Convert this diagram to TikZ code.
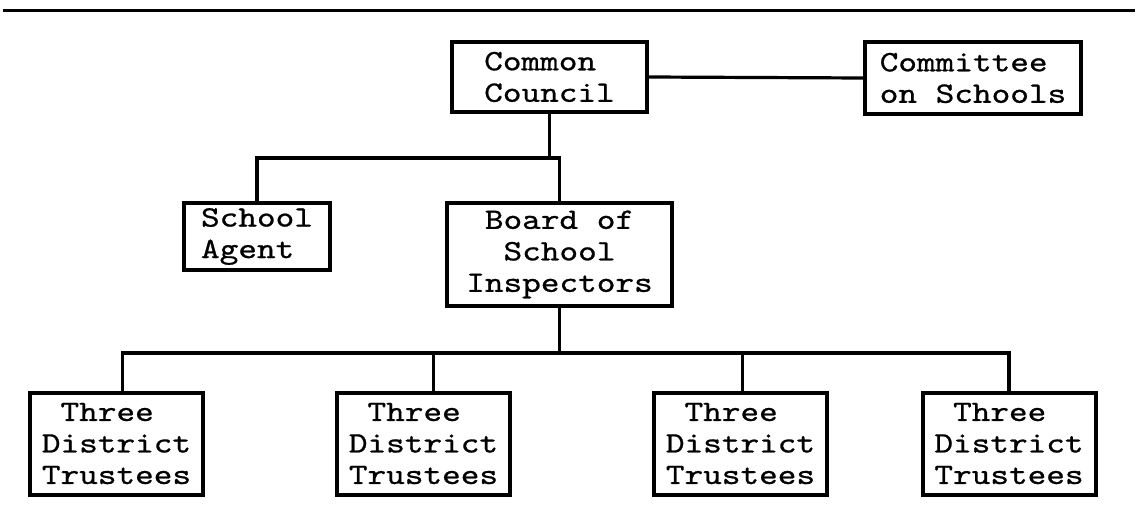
\documentclass[tikz,border=0pt]{standalone}
\usepackage{fontspec}
\newfontfamily\typefont{lmmono10-regular.otf}[FakeStretch=1.2,FakeBold=0.8]
\usetikzlibrary{positioning}

\tikzset{every picture/.style={line width=1.6pt}}
\tikzset{
  orgbox/.style={draw, line width=2pt, inner sep=0pt, align=left,
    font=\typefont\fontsize{14.8}{15.75}\selectfont},
  link/.style={line width=1.6pt},
  toprule/.style={line width=1.5pt}
}

\begin{document}
\begin{tikzpicture}[x=0.5pt,y=0.5pt,yscale=-1,xscale=1]
    \useasboundingbox (0,0) rectangle (1138,519);

    % top rule
    \coordinate (ruleL) at (3,11);
    \coordinate (ruleR) at (1135,11);
    \draw[toprule] (ruleL) -- (ruleR);

    % Boxes
    \node[orgbox, minimum width=97.5pt, minimum height=35pt] (council) at (549.5,77) {Common\\Council};
    \node[orgbox, minimum width=108pt, minimum height=36pt] (committee) at (973,78) {Committee\\on Schools};
    \node[orgbox, minimum width=73pt, minimum height=33.5pt] (agent) at (257,236.5) {School\\Agent};
    \node[orgbox, align=center, minimum width=112.5pt, minimum height=51.5pt] (board) at (559.5,254.5) {Board of\\School\\Inspectors};
    \node[orgbox, minimum width=86.5pt, minimum height=51pt] (trustA) at (116.5,443.5) {\hphantom{T}Three\\District\\Trustees};
    \node[orgbox, minimum width=86.5pt, minimum height=51pt] (trustB) at (423.5,443.5) {\hphantom{T}Three\\District\\Trustees};
    \node[orgbox, minimum width=86.5pt, minimum height=51pt] (trustC) at (740.5,443.5) {\hphantom{T}Three\\District\\Trustees};
    \node[orgbox, minimum width=86.5pt, minimum height=51pt] (trustD) at (1009,443.5) {\hphantom{T}Three\\District\\Trustees};

    % bus levels
    \coordinate (upbus) at (0,158);
    \coordinate (lowbus) at (0,353);

    % Connectors
    \draw[link] (council.east) -- (committee.west);
    \draw[link] (council.south) -- (council.south |- upbus);
    \draw[link] (agent.north) |- (upbus -| board.north) -- (board.north);
    \draw[link] (board.south) -- (board.south |- lowbus);
    \draw[link] ([xshift=3pt]trustA.north) |- (lowbus -| trustD.north) -- (trustD.north);
    \draw[link] ([xshift=5pt]trustB.north) -- ([xshift=5pt]trustB.north |- lowbus);
    \draw[link] ([xshift=1pt]trustC.north) -- ([xshift=1pt]trustC.north |- lowbus);

\end{tikzpicture}
\end{document}
